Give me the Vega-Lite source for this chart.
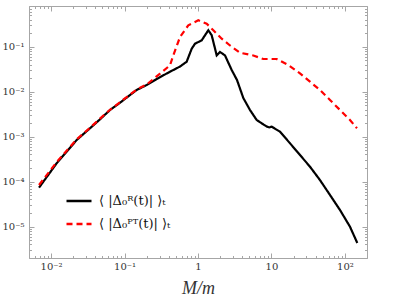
{
  "$schema": "https://vega.github.io/schema/vega-lite/v6.json",
  "width": 338,
  "height": 252,
  "autosize": "none",
  "padding": {"left": 29, "top": 6, "right": 30, "bottom": 45},
  "background": "white",
  "config": {
    "view": {"stroke": null},
    "axis": {
      "grid": false,
      "domainColor": "#a6a6a6",
      "tickColor": "#a6a6a6",
      "labelFont": "DejaVu Serif",
      "labelFontSize": 10,
      "labelColor": "#333333",
      "titleFont": "Liberation Serif",
      "titleColor": "#333333"
    },
    "legend": {
      "labelFont": "DejaVu Serif",
      "labelFontSize": 13,
      "labelColor": "#111111",
      "padding": 0,
      "symbolType": "stroke",
      "symbolSize": 625,
      "symbolStrokeWidth": 2.5,
      "rowPadding": 2,
      "labelOffset": 6
    }
  },
  "data": {
    "values": [
      {"x": 0.00684, "y": 7.31e-5, "s": "R"},
      {"x": 0.0119, "y": 2.55e-4, "s": "R"},
      {"x": 0.0223, "y": 8.4e-4, "s": "R"},
      {"x": 0.0338, "y": 1.53e-3, "s": "R"},
      {"x": 0.0463, "y": 2.42e-3, "s": "R"},
      {"x": 0.0634, "y": 3.9e-3, "s": "R"},
      {"x": 0.0867, "y": 5.66e-3, "s": "R"},
      {"x": 0.1186, "y": 8.4e-3, "s": "R"},
      {"x": 0.146, "y": 0.01086, "s": "R"},
      {"x": 0.2, "y": 0.014, "s": "R"},
      {"x": 0.274, "y": 0.0191, "s": "R"},
      {"x": 0.375, "y": 0.0253, "s": "R"},
      {"x": 0.461, "y": 0.0302, "s": "R"},
      {"x": 0.569, "y": 0.0361, "s": "R"},
      {"x": 0.701, "y": 0.0462, "s": "R"},
      {"x": 0.821, "y": 0.09, "s": "R"},
      {"x": 0.91, "y": 0.116, "s": "R"},
      {"x": 1.123, "y": 0.138, "s": "R"},
      {"x": 1.381, "y": 0.231, "s": "R"},
      {"x": 1.536, "y": 0.179, "s": "R"},
      {"x": 1.797, "y": 0.0641, "s": "R"},
      {"x": 1.993, "y": 0.076, "s": "R"},
      {"x": 2.331, "y": 0.0638, "s": "R"},
      {"x": 2.876, "y": 0.0302, "s": "R"},
      {"x": 3.396, "y": 0.0181, "s": "R"},
      {"x": 4.138, "y": 7.21e-3, "s": "R"},
      {"x": 5.104, "y": 3.9e-3, "s": "R"},
      {"x": 6.297, "y": 2.34e-3, "s": "R"},
      {"x": 7.365, "y": 1.975e-3, "s": "R"},
      {"x": 8.615, "y": 1.676e-3, "s": "R"},
      {"x": 9.3, "y": 1.6e-3, "s": "R"},
      {"x": 10.08, "y": 1.66e-3, "s": "R"},
      {"x": 13.07, "y": 1.285e-3, "s": "R"},
      {"x": 17.89, "y": 7.1e-4, "s": "R"},
      {"x": 24.47, "y": 3.9e-4, "s": "R"},
      {"x": 33.48, "y": 2.14e-4, "s": "R"},
      {"x": 45.8, "y": 1.08e-4, "s": "R"},
      {"x": 62.7, "y": 5.03e-5, "s": "R"},
      {"x": 85.8, "y": 2.33e-5, "s": "R"},
      {"x": 117.3, "y": 9.93e-6, "s": "R"},
      {"x": 147.5, "y": 4.31e-6, "s": "R"},
      {"x": 0.00684, "y": 8.4e-5, "s": "PT"},
      {"x": 0.0119, "y": 2.7e-4, "s": "PT"},
      {"x": 0.0223, "y": 8.7e-4, "s": "PT"},
      {"x": 0.0338, "y": 1.57e-3, "s": "PT"},
      {"x": 0.0463, "y": 2.5e-3, "s": "PT"},
      {"x": 0.0634, "y": 3.95e-3, "s": "PT"},
      {"x": 0.0867, "y": 5.8e-3, "s": "PT"},
      {"x": 0.1186, "y": 8.6e-3, "s": "PT"},
      {"x": 0.146, "y": 0.0111, "s": "PT"},
      {"x": 0.2, "y": 0.0144, "s": "PT"},
      {"x": 0.304, "y": 0.025, "s": "PT"},
      {"x": 0.4156, "y": 0.0385, "s": "PT"},
      {"x": 0.461, "y": 0.0641, "s": "PT"},
      {"x": 0.569, "y": 0.1637, "s": "PT"},
      {"x": 0.7376, "y": 0.298, "s": "PT"},
      {"x": 1.009, "y": 0.385, "s": "PT"},
      {"x": 1.313, "y": 0.323, "s": "PT"},
      {"x": 1.616, "y": 0.231, "s": "PT"},
      {"x": 2.102, "y": 0.15, "s": "PT"},
      {"x": 2.727, "y": 0.106, "s": "PT"},
      {"x": 3.731, "y": 0.0733, "s": "PT"},
      {"x": 5.66, "y": 0.0635, "s": "PT"},
      {"x": 7.74, "y": 0.0531, "s": "PT"},
      {"x": 11.79, "y": 0.0531, "s": "PT"},
      {"x": 16.96, "y": 0.039, "s": "PT"},
      {"x": 24.47, "y": 0.0255, "s": "PT"},
      {"x": 33.48, "y": 0.0166, "s": "PT"},
      {"x": 45.8, "y": 0.01086, "s": "PT"},
      {"x": 62.7, "y": 6.51e-3, "s": "PT"},
      {"x": 85.8, "y": 3.9e-3, "s": "PT"},
      {"x": 117.3, "y": 2.34e-3, "s": "PT"},
      {"x": 146.1, "y": 1.53e-3, "s": "PT"}
    ]
  },
  "layer": [
    {
      "mark": {"type": "line", "strokeWidth": 2.2, "clip": true},
      "encoding": {
        "x": {
          "field": "x", "type": "quantitative",
          "scale": {"type": "log", "domain": [0.005, 200], "nice": false},
          "axis": {
            "orient": "bottom",
            "values": [0.01, 0.1, 1, 10, 100],
            "tickSize": -5,
            "labelPadding": 8,
            "labelExpr": "datum.value < 0.05 ? '10⁻²' : datum.value < 0.5 ? '10⁻¹' : datum.value < 5 ? '1' : datum.value < 50 ? '10' : '10²'",
            "title": "M/m",
            "titleFontSize": 18,
            "titleFontStyle": "italic",
            "titleFontWeight": "normal",
            "titlePadding": 8
          }
        },
        "y": {
          "field": "y", "type": "quantitative",
          "scale": {"type": "log", "domain": [2e-6, 0.8], "nice": false},
          "axis": {
            "orient": "left",
            "values": [1e-5, 1e-4, 1e-3, 0.01, 0.1],
            "tickSize": -5,
            "labelPadding": 10,
            "labelExpr": "datum.value < 5e-5 ? '10⁻⁵' : datum.value < 5e-4 ? '10⁻⁴' : datum.value < 5e-3 ? '10⁻³' : datum.value < 0.05 ? '10⁻²' : '10⁻¹'",
            "title": null
          }
        },
        "color": {
          "field": "s", "type": "nominal",
          "scale": {"domain": ["R", "PT"], "range": ["#000000", "#ff0000"]},
          "legend": {
            "orient": "none",
            "legendX": 36,
            "legendY": 181,
            "title": null,
            "labelExpr": "datum.value == 'R' ? '⟨ |Δ₀ᴿ(t)| ⟩ₜ' : '⟨ |Δ₀ᴾᵀ(t)| ⟩ₜ'"
          }
        },
        "strokeDash": {
          "field": "s", "type": "nominal",
          "scale": {"domain": ["R", "PT"], "range": [[1, 0], [6, 4]]},
          "legend": {
            "orient": "none",
            "legendX": 36,
            "legendY": 181,
            "title": null,
            "labelExpr": "datum.value == 'R' ? '⟨ |Δ₀ᴿ(t)| ⟩ₜ' : '⟨ |Δ₀ᴾᵀ(t)| ⟩ₜ'"
          }
        }
      }
    },
    {
      "mark": {"type": "point", "opacity": 0},
      "encoding": {
        "x": {
          "field": "x", "type": "quantitative",
          "axis": {
            "orient": "bottom",
            "values": [0.005, 0.006, 0.007, 0.008, 0.009, 0.02, 0.03, 0.04, 0.05, 0.06, 0.07, 0.08, 0.09, 0.2, 0.3, 0.4, 0.5, 0.6, 0.7, 0.8, 0.9, 2, 3, 4, 5, 6, 7, 8, 9, 20, 30, 40, 50, 60, 70, 80, 90, 200],
            "tickSize": -2.5, "labels": false, "domain": false, "title": null
          }
        },
        "y": {
          "field": "y", "type": "quantitative",
          "axis": {
            "orient": "left",
            "values": [2e-6, 3e-6, 4e-6, 5e-6, 6e-6, 7e-6, 8e-6, 9e-6, 2e-5, 3e-5, 4e-5, 5e-5, 6e-5, 7e-5, 8e-5, 9e-5, 2e-4, 3e-4, 4e-4, 5e-4, 6e-4, 7e-4, 8e-4, 9e-4, 2e-3, 3e-3, 4e-3, 5e-3, 6e-3, 7e-3, 8e-3, 9e-3, 0.02, 0.03, 0.04, 0.05, 0.06, 0.07, 0.08, 0.09, 0.2, 0.3, 0.4, 0.5, 0.6, 0.7, 0.8],
            "tickSize": -2.5, "labels": false, "domain": false, "title": null
          }
        }
      }
    },
    {
      "mark": {"type": "point", "opacity": 0},
      "encoding": {
        "x": {
          "field": "x", "type": "quantitative",
          "axis": {"orient": "top", "values": [0.01, 0.1, 1, 10, 100], "tickSize": -5, "labels": false, "title": null}
        },
        "y": {
          "field": "y", "type": "quantitative",
          "axis": {"orient": "right", "values": [1e-5, 1e-4, 1e-3, 0.01, 0.1], "tickSize": -5, "labels": false, "title": null}
        }
      }
    },
    {
      "mark": {"type": "point", "opacity": 0},
      "encoding": {
        "x": {
          "field": "x", "type": "quantitative",
          "axis": {
            "orient": "top",
            "values": [0.005, 0.006, 0.007, 0.008, 0.009, 0.02, 0.03, 0.04, 0.05, 0.06, 0.07, 0.08, 0.09, 0.2, 0.3, 0.4, 0.5, 0.6, 0.7, 0.8, 0.9, 2, 3, 4, 5, 6, 7, 8, 9, 20, 30, 40, 50, 60, 70, 80, 90, 200],
            "tickSize": -2.5, "labels": false, "domain": false, "title": null
          }
        },
        "y": {
          "field": "y", "type": "quantitative",
          "axis": {
            "orient": "right",
            "values": [2e-6, 3e-6, 4e-6, 5e-6, 6e-6, 7e-6, 8e-6, 9e-6, 2e-5, 3e-5, 4e-5, 5e-5, 6e-5, 7e-5, 8e-5, 9e-5, 2e-4, 3e-4, 4e-4, 5e-4, 6e-4, 7e-4, 8e-4, 9e-4, 2e-3, 3e-3, 4e-3, 5e-3, 6e-3, 7e-3, 8e-3, 9e-3, 0.02, 0.03, 0.04, 0.05, 0.06, 0.07, 0.08, 0.09, 0.2, 0.3, 0.4, 0.5, 0.6, 0.7, 0.8],
            "tickSize": -2.5, "labels": false, "domain": false, "title": null
          }
        }
      }
    }
  ],
  "resolve": {"axis": {"x": "independent", "y": "independent"}}
}
